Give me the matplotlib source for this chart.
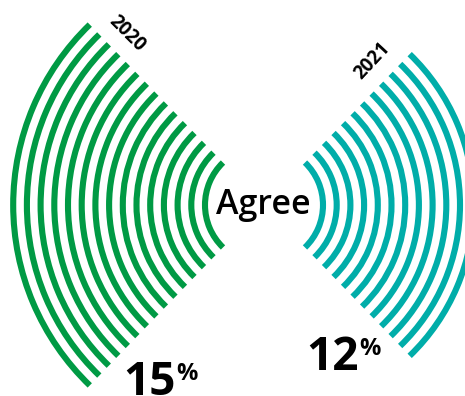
import matplotlib
matplotlib.use("Agg")
import matplotlib.pyplot as plt
from matplotlib.patches import Arc

# Share of respondents who agree, per survey year
years = ["2020", "2021"]
agree_pct = [15, 12]
colors = ["#009A44", "#00ADA9"]
center_label = "Agree"

W, H = 465, 396
fig = plt.figure(figsize=(W / 100, H / 100), dpi=100)
ax = fig.add_axes([0, 0, 1, 1])
ax.set_xlim(0, W)
ax.set_ylim(0, H)
ax.set_aspect("equal")
ax.axis("off")

cx, cy = 264, 191          # common centre of both fans
r0, step = 59, 13.7        # innermost radius and ring spacing
half_span = 46             # half the opening angle of each fan (deg)
lw = 4.4

# one ring per percentage point: left fan faces left, right fan faces right
fan_dirs = [180, 0]
for n, col, d in zip(agree_pct, colors, fan_dirs):
    for i in range(n):
        r = r0 + i * step
        ax.add_patch(Arc((cx, cy), 2 * r, 2 * r, theta1=d - half_span,
                         theta2=d + half_span, color=col, lw=lw,
                         capstyle="butt"))

ax.text(cx - 1, cy, center_label, ha="center", va="center",
        fontsize=24.5, family="Open Sans", fontweight=600, color="black")

# year labels sit just past the outer ring ends
year_pos = [(127, 362, -45), (372, 335, 47)]
for yr, (x, y, rot) in zip(years, year_pos):
    ax.text(x, y, yr, ha="center", va="center", rotation=rot,
            fontsize=13.5, family="Open Sans", fontweight="bold",
            color="black")

# big percentage values with a raised % sign
pct_pos = [(123, 1), (306, 26)]
for v, (x, y) in zip(agree_pct, pct_pos):
    t = ax.text(x, y, str(v), ha="left", va="baseline", fontsize=33,
                family="Open Sans", fontweight="bold", color="black")
    fig.canvas.draw()
    bb = t.get_window_extent().transformed(ax.transData.inverted())
    ax.text(bb.x1 + 0.5, y + 15, "%", ha="left", va="baseline", fontsize=17,
            family="Open Sans", fontweight="bold", color="black")

fig.savefig("out.png", dpi=100)
